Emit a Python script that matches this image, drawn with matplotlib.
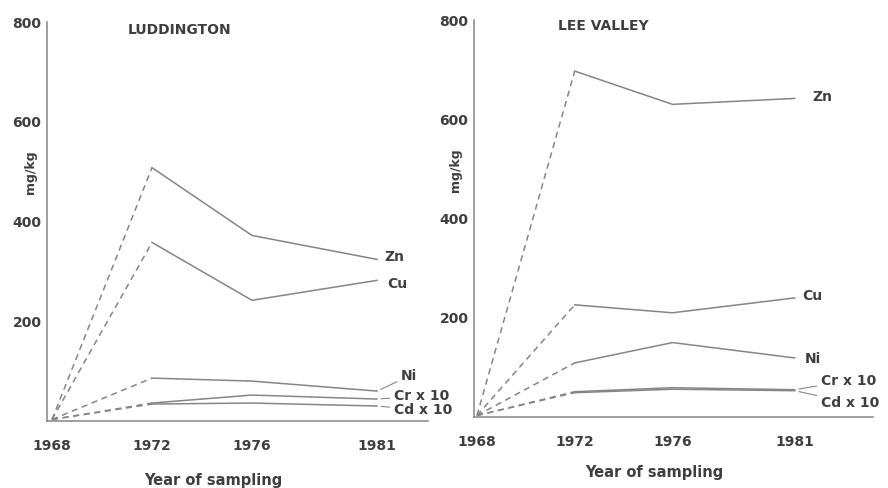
import matplotlib
matplotlib.use("Agg")
import matplotlib.pyplot as plt

years = [1968, 1972, 1976, 1981]
year_labels = ["1968", "1972", "1976", "1981"]
metals = ["Zn", "Cu", "Ni", "Cr x 10", "Cd x 10"]

# Luddington values (mg/kg)
lud_zn = [3, 508, 372, 324]
lud_cu = [3, 358, 242, 282]
lud_ni = [3, 86, 80, 60]
lud_cr = [3, 36, 52, 44]
lud_cd = [3, 34, 36, 30]

# Lee Valley values (mg/kg)
lee_zn = [3, 697, 630, 642]
lee_cu = [3, 226, 210, 240]
lee_ni = [3, 109, 150, 119]
lee_cr = [3, 51, 59, 55]
lee_cd = [3, 49, 56, 53]

yticks = [200, 400, 600, 800]

GRAY = "#858585"
TXT = "#3e3e3e"
FONT = "DejaVu Sans"

fig = plt.figure(figsize=(8.88, 4.88), dpi=100)
W, H = 888, 488

def add_axes(x0, x1, ybot, ytop):
    return fig.add_axes([x0 / W, 1 - ybot / H, (x1 - x0) / W, (ybot - ytop) / H])

panels = [
    dict(ax=add_axes(47, 428, 421, 22), title="LUDDINGTON", tx=180, ty=30,
         ylx=30, yly=172, xlx=213, xly=480,
         xlim=(1967.8, 1983.04),
         series=[lud_zn, lud_cu, lud_ni, lud_cr, lud_cd],
         offsets=[(7, 2), (10, -4), (24, 15), (17, 3), (17, -4)],
         leaders=[False, False, True, True, True]),
    dict(ax=add_axes(474, 873, 417, 20), title="LEE VALLEY", tx=603, ty=26,
         ylx=455, yly=170, xlx=654, xly=472,
         xlim=(1967.88, 1984.2),
         series=[lee_zn, lee_cu, lee_ni, lee_cr, lee_cd],
         offsets=[(18, 1), (7, 2), (10, -1), (26, 9), (26, -12)],
         leaders=[False, False, False, True, True]),
]

px = 0.72  # points per pixel at dpi 100

for p in panels:
    ax = p["ax"]
    ax.set_xlim(*p["xlim"])
    ax.set_ylim(0, 800)
    for s in ["top", "right"]:
        ax.spines[s].set_visible(False)
    for s in ["left", "bottom"]:
        ax.spines[s].set_color(GRAY)
        ax.spines[s].set_linewidth(1.1)
    ax.set_xticks(years)
    ax.set_xticklabels(year_labels)
    ax.set_yticks(yticks)
    ax.set_yticklabels([str(v) for v in yticks])
    ax.tick_params(length=0, labelsize=10, labelcolor=TXT)
    ax.tick_params(axis="x", pad=13)
    ax.tick_params(axis="y", pad=4)
    for lab in ax.get_xticklabels() + ax.get_yticklabels():
        lab.set_fontweight("bold")
        lab.set_fontfamily(FONT)
    ax.patch.set_alpha(0)

    for vals, name, off, lead in zip(p["series"], metals, p["offsets"], p["leaders"]):
        ax.plot(years[:2], vals[:2], color=GRAY, lw=1.1, ls=(0, (4, 3)))
        ax.plot(years[1:], vals[1:], color=GRAY, lw=1.1, ls="-")
        kw = dict(xy=(years[-1], vals[-1]), xycoords="data",
                  xytext=(off[0] * px, off[1] * px), textcoords="offset points",
                  ha="left", va="center", fontsize=10, fontweight="bold",
                  color=TXT, family=FONT, annotation_clip=False)
        if lead:
            kw["arrowprops"] = dict(arrowstyle="-", color=GRAY, lw=0.8,
                                    shrinkA=1, shrinkB=3)
        ax.annotate(name, **kw)

    fig.text(p["tx"] / W, 1 - p["ty"] / H, p["title"], ha="center", va="center",
             fontsize=10, fontweight="bold", color=TXT, family=FONT)
    fig.text(p["ylx"] / W, 1 - p["yly"] / H, "mg/kg", ha="center", va="center",
             rotation=90, fontsize=9, fontweight="bold", color=TXT, family=FONT)
    fig.text(p["xlx"] / W, 1 - p["xly"] / H, "Year of sampling", ha="center",
             va="center", fontsize=10.5, fontweight="bold", color=TXT, family=FONT)

fig.savefig("out.png", dpi=100, facecolor="white")
